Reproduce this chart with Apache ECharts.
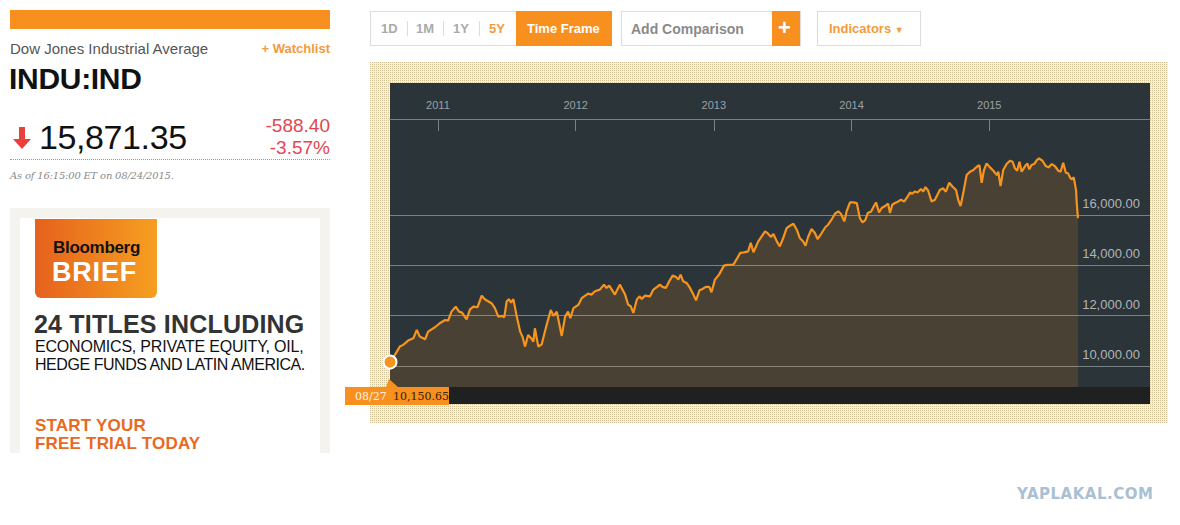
<!DOCTYPE html>
<html>
<head>
<meta charset="utf-8">
<script src="https://cdn.jsdelivr.net/npm/echarts@6/dist/echarts.min.js"></script>
<style>
  html,body{margin:0;padding:0;background:#fff;width:1180px;height:525px;overflow:hidden;font-family:"Liberation Sans",Arial,sans-serif;}
  .abs{position:absolute;}
  .t{position:absolute;white-space:nowrap;line-height:1;}
</style>
</head>
<body>
<!-- left header -->
<div class="abs" style="left:10px;top:10px;width:320px;height:19px;background:#f7901e;"></div>
<div class="t" style="left:10px;top:41px;font-size:15px;color:#555;">Dow Jones Industrial Average</div>
<div class="t" style="right:850px;top:42px;font-size:13px;font-weight:bold;color:#f39a3c;">+ Watchlist</div>
<div class="t" style="left:9px;top:64px;font-size:30px;font-weight:bold;color:#111;letter-spacing:-0.3px;">INDU:IND</div>
<svg class="abs" style="left:11px;top:126px" width="22" height="24" viewBox="0 0 22 24">
  <polygon points="8,1 14,1 14,13 20,13 11,23 2,13 8,13" fill="#ea3f3a"/>
</svg>
<div class="t" style="left:39px;top:120px;font-size:34px;color:#111;letter-spacing:-0.4px;">15,871.35</div>
<div class="t" style="right:850px;top:116px;font-size:19px;color:#e2474f;">-588.40</div>
<div class="t" style="right:850px;top:138px;font-size:19px;color:#e2474f;">-3.57%</div>
<div class="abs" style="left:10px;top:159px;width:320px;border-top:1px dotted #999;"></div>
<div class="t" style="left:10px;top:171px;font-size:10px;font-style:italic;color:#8a8a8a;font-family:'DejaVu Serif',serif;letter-spacing:-0.2px;">As of 16:15:00 ET on 08/24/2015.</div>

<!-- ad -->
<div class="abs" style="left:10px;top:208px;width:320px;height:245px;background:#f4f3ee;"></div>
<div class="abs" style="left:20px;top:218px;width:300px;height:235px;background:#fff;"></div>
<div class="abs" style="left:35px;top:219px;width:122px;height:79px;background:linear-gradient(90deg,#e6611d,#f59f20);border-radius:0 0 6px 6px;"></div>
<div class="t" style="left:53px;top:239px;font-size:17px;font-weight:bold;color:#111;letter-spacing:-0.3px;">Bloomberg</div>
<div class="t" style="left:52px;top:259px;font-size:27px;font-weight:bold;color:#fff;letter-spacing:0.8px;">BRIEF</div>
<div class="t" style="left:34px;top:312px;font-size:25px;font-weight:bold;color:#333;letter-spacing:0.2px;">24 TITLES INCLUDING</div>
<div class="t" style="left:35px;top:339px;font-size:16px;color:#111;letter-spacing:-0.2px;">ECONOMICS, PRIVATE EQUITY, OIL,</div>
<div class="t" style="left:35px;top:357px;font-size:16px;color:#111;letter-spacing:-0.45px;">HEDGE FUNDS AND LATIN AMERICA.</div>
<div class="t" style="left:35px;top:417px;font-size:17px;font-weight:bold;color:#e8691f;letter-spacing:0.2px;">START YOUR</div>
<div class="t" style="left:35px;top:435px;font-size:17px;font-weight:bold;color:#e8691f;letter-spacing:0.2px;">FREE TRIAL TODAY</div>

<!-- toolbar -->
<div class="abs" style="left:370px;top:11px;width:240px;height:33px;border:1px solid #ddd;background:#fff;"></div>
<div class="t" style="left:381px;top:22px;font-size:13px;font-weight:bold;color:#aaa;">1D</div>
<div class="abs" style="left:407px;top:21px;width:1px;height:15px;background:#ddd;"></div>
<div class="t" style="left:416px;top:22px;font-size:13px;font-weight:bold;color:#aaa;">1M</div>
<div class="abs" style="left:443px;top:21px;width:1px;height:15px;background:#ddd;"></div>
<div class="t" style="left:453px;top:22px;font-size:13px;font-weight:bold;color:#aaa;">1Y</div>
<div class="abs" style="left:479px;top:21px;width:1px;height:15px;background:#ddd;"></div>
<div class="t" style="left:489px;top:22px;font-size:13px;font-weight:bold;color:#f39a3c;">5Y</div>
<div class="abs" style="left:516px;top:11px;width:96px;height:35px;background:#f7901e;"></div>
<div class="t" style="left:527px;top:22px;font-size:13px;font-weight:bold;color:#fff;">Time Frame</div>
<div class="abs" style="left:621px;top:11px;width:178px;height:33px;border:1px solid #ddd;background:#fff;"></div>
<div class="t" style="left:631px;top:22px;font-size:14px;font-weight:bold;color:#8a8a8a;">Add Comparison</div>
<div class="abs" style="left:772px;top:11px;width:28px;height:35px;background:#f7901e;"></div>
<div class="t" style="left:778px;top:17px;font-size:22px;font-weight:bold;color:#fff;">+</div>
<div class="abs" style="left:817px;top:11px;width:102px;height:33px;border:1px solid #ddd;background:#fff;"></div>
<div class="t" style="left:829px;top:22px;font-size:13px;font-weight:bold;color:#f39a3c;">Indicators <span style="font-size:9px;">▼</span></div>

<!-- chart frame -->
<div class="abs" style="left:370px;top:62px;width:798px;height:361px;background-color:#d3c398;background-image:linear-gradient(90deg, transparent 1px, #f6f0e1 1px),linear-gradient(transparent 1px, #f6f0e1 1px);background-size:2px 2px;"></div>
<div class="abs" style="left:390px;top:83px;width:760px;height:321px;background:#2b3439;"></div>
<div class="abs" style="left:390px;top:387px;width:760px;height:17px;background:#1f2020;"></div>
<div id="chart" class="abs" style="left:340px;top:62px;width:828px;height:361px;"></div>

<div class="t" style="left:1017px;top:487px;font-size:15px;font-weight:bold;color:#a9c0d4;font-family:'DejaVu Sans',sans-serif;letter-spacing:0.5px;">YAPLAKAL.COM</div>

<script>
const dates = [
'2010-08-27','2010-09-09','2010-09-22','2010-10-01','2010-10-14','2010-10-28','2010-11-06','2010-11-14','2010-11-28','2010-12-06','2010-12-24',
'2011-01-06','2011-01-20','2011-01-28','2011-02-06','2011-02-17','2011-02-26','2011-03-06','2011-03-18','2011-03-27','2011-04-05','2011-04-16','2011-04-27',
'2011-05-05','2011-05-23','2011-06-01','2011-06-10','2011-06-19','2011-06-26','2011-07-02','2011-07-08','2011-07-14','2011-07-20','2011-07-29',
'2011-08-07','2011-08-13','2011-08-20','2011-08-28','2011-09-05','2011-09-11','2011-09-15','2011-09-24','2011-10-03','2011-10-16','2011-10-27',
'2011-11-03','2011-11-12','2011-11-25','2011-12-04','2011-12-12','2011-12-18','2011-12-26',
'2012-01-08','2012-01-17','2012-02-03','2012-02-12','2012-02-21','2012-03-05','2012-03-16','2012-03-23','2012-03-30','2012-04-14','2012-04-27',
'2012-05-11','2012-05-19','2012-05-26','2012-06-02','2012-06-11','2012-06-18','2012-06-24','2012-07-03','2012-07-16','2012-07-25',
'2012-08-04','2012-08-11','2012-08-18','2012-08-27','2012-09-05','2012-09-14','2012-09-23','2012-09-29','2012-10-05','2012-10-12','2012-10-21','2012-10-30',
'2012-11-08','2012-11-15','2012-11-24','2012-12-02','2012-12-11','2012-12-20','2012-12-26',
'2013-01-04','2013-01-15','2013-01-28','2013-02-06','2013-02-22','2013-03-03','2013-03-12','2013-03-22','2013-04-02','2013-04-09','2013-04-16','2013-04-29',
'2013-05-08','2013-05-17','2013-05-25','2013-06-01','2013-06-08','2013-06-17','2013-06-25','2013-07-04','2013-07-13','2013-07-22','2013-07-31',
'2013-08-09','2013-08-17','2013-08-26','2013-09-01','2013-09-08','2013-09-17','2013-09-26','2013-10-03','2013-10-14','2013-10-24','2013-10-31',
'2013-11-09','2013-11-18','2013-11-27','2013-12-04','2013-12-13','2013-12-19','2013-12-28',
'2014-01-06','2014-01-15','2014-01-23','2014-01-30','2014-02-06','2014-02-13','2014-02-22','2014-02-28','2014-03-07','2014-03-15','2014-03-22',
'2014-04-01','2014-04-08','2014-04-13','2014-04-19','2014-04-26','2014-05-05','2014-05-12','2014-05-21','2014-05-30','2014-06-05','2014-06-11',
'2014-06-18','2014-06-25','2014-07-04','2014-07-10','2014-07-16','2014-07-23','2014-08-01','2014-08-10','2014-08-23','2014-09-01','2014-09-08',
'2014-09-17','2014-09-26','2014-10-05','2014-10-11','2014-10-17','2014-10-24','2014-11-02','2014-11-11','2014-11-20','2014-11-29','2014-12-06',
'2014-12-12','2014-12-18','2014-12-25',
'2015-01-03','2015-01-12','2015-01-21','2015-01-25','2015-01-31','2015-02-07','2015-02-16','2015-02-25','2015-03-04','2015-03-10','2015-03-16',
'2015-03-22','2015-03-28','2015-04-06','2015-04-12','2015-04-17','2015-04-23','2015-04-30','2015-05-07','2015-05-13','2015-05-22','2015-05-31',
'2015-06-07','2015-06-16','2015-06-24','2015-07-03','2015-07-09','2015-07-16','2015-07-23','2015-07-29','2015-08-03','2015-08-07','2015-08-13',
'2015-08-19','2015-08-21','2015-08-24'
];
const values = [
10150.65,10437,10767,10835,11005,11100,11430,11165,11060,11362,11536,
11695,11826,11800,12158,12357,12158,12118,11854,12251,12357,12333,12795,
12652,12493,12294,11960,11988,11936,12556,12652,12517,12652,11960,
11362,11165,10767,11232,11100,10966,11496,10767,10860,11629,12225,
11988,12158,11192,11960,12158,11894,12294,
12425,12692,12875,12835,12966,13034,13232,13100,13193,12835,13232,
12835,12437,12370,12107,12636,12767,12664,12795,12767,13034,
13141,13232,13141,13101,13364,13590,13539,13431,13630,13364,13300,13101,
12835,12608,13006,13060,13141,13141,12926,
13431,13630,13988,14015,14028,14254,14493,14517,14556,14891,14517,14954,
15153,15352,15260,15129,15248,14954,14755,15085,15483,15575,15654,
15416,15085,14950,14780,15125,15443,15284,15046,15284,15523,15614,
15813,16052,16143,16052,15746,16143,16501,
16501,16477,15881,15706,15786,16080,16143,16318,16501,16103,16278,
16370,16449,16080,16410,16477,16541,16608,16541,16740,16899,16847,
16938,16899,17034,16938,17113,16978,16541,16608,16994,17062,16927,
17284,17125,16994,16596,16358,16863,17590,17722,17789,17922,17988,
17284,17789,18055,
17896,17761,17590,17722,17153,17789,18028,18159,18119,17857,17761,
18119,17722,17948,18055,17817,17988,18028,18187,18254,18159,17948,
17896,18028,17948,17761,17722,18080,17682,17658,17499,17419,17499,
16990,16460,15871.35
];
const yearTicks = ['2011-01-01','2012-01-01','2013-01-01','2014-01-01','2015-01-01'];
const priceTicks = [10000, 12000, 14000, 16000];

const chart = echarts.init(document.getElementById('chart'), null, {renderer: 'svg'});
const toTs = d => +new Date(d + 'T00:00:00');
const yearTs = yearTicks.map(toTs);
const seriesData = dates.map((d, i) => [toTs(d), values[i]]);
const xMin = toTs('2010-08-27');
const xMax = toTs('2016-03-02');
const gridCol = '#7b8286';

chart.setOption({
  animation: false,
  grid: {left: 50, right: 18, top: 57, bottom: 36},
  xAxis: [{
    type: 'time',
    position: 'top',
    min: xMin,
    max: xMax,
    axisLine: {show: true, lineStyle: {color: gridCol, width: 1}},
    axisTick: {show: false},
    axisLabel: {show: false},
    splitLine: {show: false}
  }, {
    // year ticks / labels on the same scale (timestamps)
    type: 'value',
    position: 'top',
    min: xMin,
    max: xMax,
    axisLine: {show: false},
    axisTick: {show: true, inside: true, length: 12, lineStyle: {color: gridCol}, customValues: yearTs},
    axisLabel: {
      customValues: yearTs,
      color: '#9ba1a4', fontSize: 11, fontFamily: 'Liberation Sans', margin: 9,
      formatter: v => String(new Date(v).getFullYear())
    },
    splitLine: {show: false}
  }],
  yAxis: {
    type: 'value',
    position: 'right',
    min: 9160,
    max: 19820,
    axisLine: {show: false},
    axisTick: {show: false, customValues: priceTicks},
    axisLabel: {
      customValues: priceTicks,
      inside: true, margin: 10,
      color: '#b0b4b6', fontSize: 13, fontFamily: 'Liberation Sans',
      verticalAlign: 'bottom', padding: [0, 0, 5, 0],
      formatter: v => v.toLocaleString('en-US', {minimumFractionDigits: 2, maximumFractionDigits: 2})
    },
    splitLine: {show: true, lineStyle: {color: gridCol, width: 1}}
  },
  series: [{
    type: 'line',
    xAxisIndex: 0,
    data: seriesData,
    showSymbol: false,
    lineStyle: {color: '#f7941d', width: 2.2},
    areaStyle: {color: '#f7941d', opacity: 0.15},
    markPoint: {
      silent: true,
      symbol: 'circle',
      symbolSize: 13,
      itemStyle: {color: '#f7941d', borderColor: '#ffffff', borderWidth: 2},
      label: {show: false},
      data: [{coord: seriesData[0]}]
    }
  }]
});

// start-point label at the bottom bar, placed from the first data point
const p = chart.convertToPixel({xAxisIndex: 0, yAxisIndex: 0}, seriesData[0]);
const gb = chart.getHeight() - 36;
const d0 = dates[0].split('-');
chart.setOption({
  graphic: [
    {type: 'polygon', shape: {points: [[p[0] - 1, gb - 8], [p[0] + 8, gb], [p[0] - 4, gb]]}, style: {fill: '#f7901e'}},
    {type: 'rect', shape: {x: p[0] - 45, y: gb, width: 104, height: 18}, style: {fill: '#f7901e'}},
    {type: 'text', x: p[0] - 35, y: gb + 9, style: {text: d0[1] + '/' + d0[2], fill: '#fff3e3', font: '11px "DejaVu Serif"', verticalAlign: 'middle'}},
    {type: 'text', x: p[0] + 3, y: gb + 9, style: {text: values[0].toLocaleString('en-US', {minimumFractionDigits: 2}), fill: '#3a2205', font: '11px "DejaVu Serif"', verticalAlign: 'middle'}}
  ]
});
</script>
</body>
</html>
